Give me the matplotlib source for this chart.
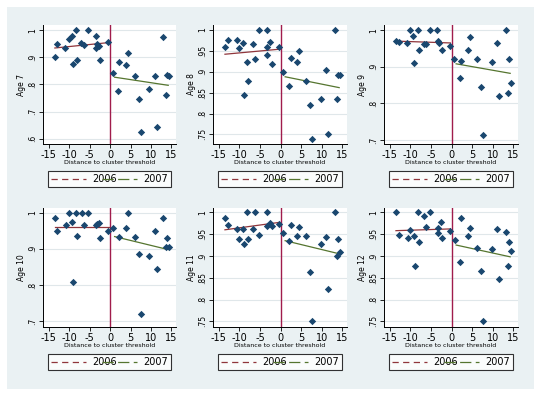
import numpy as np
import matplotlib.pyplot as plt
from matplotlib.lines import Line2D
from matplotlib.patches import Rectangle

# Data
x7 = [-13.5, -12.9, -11.0, -10.1, -9.3, -9.1, -8.3, -8.1, -7.0, -6.4, -5.3, -3.4, -3.5, -3.3, -2.7, -2.5,
      -0.6, 0.7, 2.2, 1.9, 3.9, 4.3, 6.0, 7.0, 7.5, 9.6, 11.0, 11.5, 12.9, 13.7, 13.9, 14.3]
y7 = [0.900, 0.951, 0.936, 0.968, 0.980, 0.875, 1.000, 0.890, 0.955, 0.945, 1.000, 0.979, 0.936, 0.948, 0.941, 0.890,
      0.958, 0.844, 0.883, 0.777, 0.873, 0.915, 0.830, 0.747, 0.624, 0.782, 0.833, 0.643, 0.977, 0.763, 0.836, 0.830]

x8 = [-13.4, -12.7, -10.7, -10.0, -9.1, -8.2, -8.0, -8.9, -6.7, -6.2, -5.2, -3.4, -3.4, -3.4, -2.5, -2.1,
      -0.5, 0.6, 2.1, 2.5, 4.0, 4.4, 6.1, 7.2, 7.7, 9.7, 11.1, 11.6, 13.1, 13.7, 13.9, 14.5]
y8 = [0.960, 0.977, 0.977, 0.958, 0.970, 0.924, 0.878, 0.845, 0.967, 0.931, 1.000, 1.000, 0.960, 0.941, 0.972, 0.918,
      0.960, 0.900, 0.867, 0.934, 0.924, 0.950, 0.879, 0.820, 0.738, 0.834, 0.904, 0.752, 1.000, 0.834, 0.892, 0.892]

x9 = [-13.4, -12.8, -10.8, -10.1, -9.3, -9.1, -8.2, -8.0, -6.7, -6.2, -5.3, -3.5, -3.4, -3.0, -2.3,
      -0.5, 0.6, 2.2, 2.1, 4.0, 4.4, 6.2, 7.1, 7.7, 9.7, 11.1, 11.6, 13.2, 13.7, 14.0, 14.4]
y9 = [0.971, 0.968, 0.964, 1.000, 0.984, 0.910, 1.000, 0.946, 0.961, 0.963, 1.000, 1.000, 0.971, 0.965, 0.945,
      0.957, 0.922, 0.916, 0.870, 0.945, 0.982, 0.922, 0.844, 0.714, 0.914, 0.965, 0.820, 1.000, 0.829, 0.920, 0.855]

x10 = [-13.5, -12.9, -10.9, -10.1, -9.3, -9.1, -8.3, -8.1, -6.8, -6.4, -5.3, -3.4, -3.1, -2.7, -2.5,
       -0.6, 0.7, 2.2, 3.9, 4.3, 6.0, 7.1, 7.5, 9.6, 10.9, 11.5, 12.9, 13.7, 13.9, 14.3]
y10 = [0.985, 0.950, 0.967, 1.000, 0.974, 0.809, 1.000, 0.936, 1.000, 0.965, 1.000, 0.967, 0.968, 0.972, 0.929,
       0.949, 0.959, 0.934, 0.959, 1.000, 0.932, 0.887, 0.720, 0.881, 0.950, 0.843, 0.985, 0.904, 0.931, 0.906]

x11 = [-13.4, -12.7, -10.7, -10.0, -9.1, -8.9, -8.2, -8.0, -6.7, -6.2, -5.2, -3.4, -3.4, -2.5, -2.1,
       -0.5, 0.6, 2.1, 2.5, 4.0, 4.4, 6.1, 7.2, 7.7, 9.7, 11.1, 11.6, 13.1, 13.7, 13.9, 14.5]
y11 = [0.988, 0.972, 0.961, 0.940, 0.961, 0.928, 1.000, 0.938, 0.962, 1.000, 0.947, 1.000, 0.969, 0.975, 0.969,
       0.974, 0.953, 0.935, 0.972, 0.945, 0.967, 0.945, 0.864, 0.750, 0.928, 0.943, 0.825, 1.000, 0.900, 0.938, 0.908]

x12 = [-13.4, -12.7, -10.7, -10.0, -9.2, -9.0, -8.2, -8.0, -6.6, -6.2, -5.2, -3.4, -3.4, -2.5, -2.3,
       -0.5, 0.7, 2.2, 2.1, 4.0, 4.4, 6.1, 7.1, 7.7, 9.7, 11.1, 11.6, 13.2, 13.7, 13.9, 14.3]
y12 = [1.000, 0.947, 0.942, 0.960, 0.945, 0.878, 1.000, 0.932, 0.992, 0.966, 1.000, 0.965, 0.952, 0.979, 0.942,
       0.958, 0.937, 0.986, 0.887, 0.946, 0.965, 0.919, 0.866, 0.750, 0.915, 0.961, 0.847, 0.955, 0.878, 0.933, 0.912]

# fitted line end points (left of threshold = 2006, right = 2007)
fit06_x = [-13.5, -0.3]
fit07_x = [1.1, 14.2]
fit06_y = {7: [0.935, 0.955], 8: [0.942, 0.954], 9: [0.970, 0.965],
           10: [0.960, 0.960], 11: [0.960, 0.977], 12: [0.958, 0.962]}
fit07_y = {7: [0.827, 0.797], 8: [0.888, 0.862], 9: [0.908, 0.882],
           10: [0.934, 0.898], 11: [0.935, 0.905], 12: [0.925, 0.898]}

ylims = {7: (0.58, 1.02), 8: (0.727, 1.012), 9: (0.689, 1.014),
         10: (0.684, 1.013), 11: (0.737, 1.01), 12: (0.737, 1.01)}
yticks = {7: [1, .9, .8, .7, .6], 8: [1, .95, .9, .85, .8, .75], 9: [1, .9, .8, .7],
          10: [1, .9, .8, .7], 11: [1, .95, .9, .85, .8, .75], 12: [1, .95, .9, .85, .8, .75]}
xticks = [-15, -10, -5, 0, 5, 10, 15]
xdata = {7: x7, 8: x8, 9: x9, 10: x10, 11: x11, 12: x12}
ydata = {7: y7, 8: y8, 9: y9, 10: y10, 11: y11, 12: y12}

W, H = 541, 397
bg = "#eaf1f3"
navy = "#1a476f"
maroon = "#90353b"
green = "#55752f"
vline = "#a01c4c"

fig = plt.figure(figsize=(W / 100, H / 100), dpi=100)
fig.patch.set_facecolor("white")
fig.patches.append(Rectangle((7 / W, 1 - 389 / H), 527 / W, 382 / H,
                             transform=fig.transFigure, facecolor=bg, edgecolor="none", zorder=-10))

cols = [(43, 176), (213, 347), (384, 518)]
rows = [(25, 144), (208, 327)]


def fmt(v):
    if v == 1:
        return "1"
    s = ("%g" % v)
    return s.replace("0.", ".")


ages = [7, 8, 9, 10, 11, 12]
for i, age in enumerate(ages):
    l, r = cols[i % 3]
    t, b = rows[i // 3]
    ax = fig.add_axes([l / W, 1 - b / H, (r - l) / W, (b - t) / H])
    ax.set_facecolor("white")
    ax.set_xlim(-16.4, 16.1)
    ax.set_ylim(*ylims[age])
    ax.set_yticks(yticks[age])
    ax.set_yticklabels([fmt(v) for v in yticks[age]], rotation=90, va="center", fontsize=5.5)
    ax.set_xticks(xticks)
    ax.set_xticklabels([str(v) for v in xticks], fontsize=7)
    ax.grid(axis="y", color="#e0e7ea", lw=0.8)
    ax.set_axisbelow(True)
    for s in ["top", "right"]:
        ax.spines[s].set_visible(False)
    for s in ["left", "bottom"]:
        ax.spines[s].set_linewidth(0.7)
    ax.tick_params(length=3, width=0.6, pad=1.5)

    ax.axvline(0, color=vline, lw=1)
    ax.scatter(xdata[age], ydata[age], marker="D", s=14, color=navy, zorder=3, linewidths=0)
    ax.plot(fit06_x, fit06_y[age], color=maroon, lw=0.9)
    ax.plot(fit07_x, fit07_y[age], color=green, lw=0.9)

    ax.set_ylabel("Age %d" % age, fontsize=5.5, labelpad=1)
    ax.set_xlabel("Distance to cluster threshold", fontsize=4.5, labelpad=0)

    handles = [Line2D([], [], color=maroon, lw=0.9, ls=(0, (5, 3.5))),
               Line2D([], [], color=green, lw=0.9, ls=(0, (9, 3.5)))]
    leg = ax.legend(handles, ["2006", "2007"], loc="center", ncol=2, mode="expand",
                    bbox_to_anchor=(0.0, -0.37, 1.0, 0.151), fontsize=7,
                    frameon=True, fancybox=False, edgecolor="black", handlelength=3.6,
                    borderpad=0.35, handletextpad=0.6, columnspacing=1.0)
    leg.get_frame().set_linewidth(0.8)

fig.savefig("out.png", dpi=100, facecolor=fig.get_facecolor())
